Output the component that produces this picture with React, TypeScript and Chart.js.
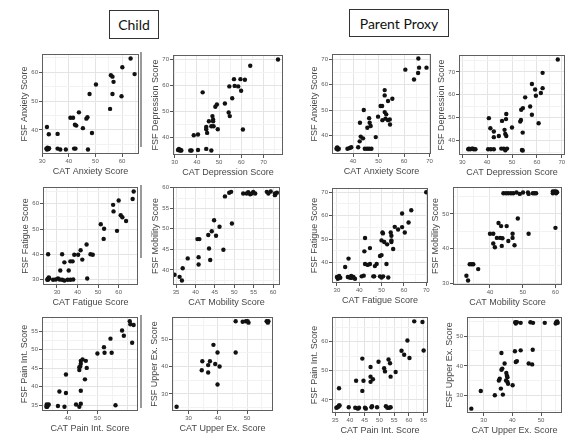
import React, { useEffect, useRef } from "react";
import { Chart, registerables } from "chart.js";
Chart.register(...registerables);

// ---------- DATA ----------
const childAnxietyX = [31.8, 32.5, 35.8, 31.6, 32.0, 32.3, 32.6, 31.8, 35.8, 36.8, 38.9, 42.0, 42.5, 47.2, 40.6, 41.6, 42.3, 42.8, 43.8, 45.3, 46.6, 47.0, 48.7, 47.8, 50.2, 55.5, 55.8, 56.4, 56.8, 56.4, 59.8, 60.1, 63.2, 64.7];
const childAnxietyY = [41.0, 38.5, 38.6, 33.5, 33.8, 33.3, 33.6, 33.2, 33.5, 33.2, 33.2, 33.5, 33.5, 33.2, 44.2, 44.2, 41.8, 41.5, 46.1, 40.6, 43.9, 44.4, 38.9, 52.5, 55.8, 47.3, 59.0, 58.5, 56.7, 52.5, 51.7, 61.8, 64.8, 59.4];
const childAnxietyXTicks = [30, 40, 50, 60];
const childAnxietyYTicks = [40, 50, 60];

const childDepressionX = [31.5, 32.3, 32.7, 31.9, 33.0, 37.0, 37.6, 40.5, 44.2, 46.5, 38.6, 40.5, 42.6, 44.2, 44.2, 44.6, 45.4, 47.0, 47.3, 47.3, 46.5, 47.5, 48.3, 49.0, 49.4, 52.6, 54.3, 54.8, 54.6, 55.9, 56.7, 57.0, 58.6, 59.6, 59.9, 61.6, 60.7, 64.0, 76.5];
const childDepressionY = [35.0, 34.8, 35.0, 35.4, 34.8, 34.8, 34.8, 35.0, 35.4, 34.8, 40.7, 41.0, 57.3, 43.9, 43.0, 41.6, 46.1, 48.1, 46.8, 46.1, 44.2, 44.2, 51.7, 52.6, 43.0, 53.0, 49.5, 48.1, 59.6, 55.0, 62.4, 59.8, 59.6, 62.4, 57.9, 62.2, 42.9, 67.6, 70.0];
const childDepressionXTicks = [30, 40, 50, 60, 70];
const childDepressionYTicks = [40, 50, 60, 70];

const parentAnxietyX = [33.5, 34.0, 33.8, 34.4, 33.7, 37.8, 38.7, 39.3, 42.0, 44.6, 45.5, 46.3, 47.2, 42.6, 43.0, 43.9, 44.2, 42.7, 45.6, 46.5, 46.3, 46.9, 48.9, 49.8, 50.8, 51.4, 52.4, 52.4, 51.5, 52.4, 53.0, 52.7, 53.7, 54.4, 54.5, 53.7, 55.4, 60.5, 63.9, 65.5, 65.9, 68.8, 65.6];
const parentAnxietyY = [34.7, 34.4, 35.2, 34.7, 35.0, 34.7, 35.0, 35.3, 35.3, 34.7, 34.7, 34.7, 34.7, 37.6, 39.5, 38.8, 50.0, 45.0, 43.0, 45.0, 46.8, 43.7, 39.3, 47.4, 51.6, 51.6, 55.8, 57.9, 46.0, 49.2, 48.3, 46.6, 46.0, 46.3, 44.3, 53.6, 54.5, 66.0, 62.1, 64.7, 66.8, 66.8, 70.4];
const parentAnxietyXTicks = [40, 50, 60, 70];
const parentAnxietyYTicks = [40, 50, 60, 70];

const parentDepressionX = [32.4, 33.2, 33.9, 34.6, 35.3, 32.7, 34.3, 40.4, 41.5, 42.7, 45.7, 46.7, 47.3, 48.0, 54.0, 54.3, 40.7, 41.3, 42.7, 42.7, 44.7, 46.0, 47.0, 47.3, 47.7, 47.6, 47.7, 50.0, 53.3, 53.6, 53.7, 54.4, 54.3, 55.3, 57.3, 58.0, 58.0, 59.3, 59.6, 60.7, 61.6, 62.3, 62.3, 68.4];
const parentDepressionY = [36.2, 36.2, 36.5, 36.2, 36.2, 36.5, 36.5, 36.2, 36.2, 36.2, 36.5, 36.5, 35.8, 36.5, 35.9, 35.7, 49.8, 45.4, 44.0, 41.5, 42.0, 48.6, 44.7, 42.9, 42.0, 49.4, 51.6, 45.7, 48.3, 49.0, 53.5, 54.2, 43.5, 58.9, 54.9, 51.3, 64.7, 62.3, 59.6, 47.6, 60.8, 62.9, 69.6, 75.4];
const parentDepressionXTicks = [30, 40, 50, 60, 70];
const parentDepressionYTicks = [40, 50, 60, 70];
const parentDepressionXRange: [number, number] = [28.7, 71.3];

const childFatigueX = [25.7, 25.5, 25.8, 26.2, 25.3, 26.0, 28.1, 29.4, 30.5, 31.3, 32.5, 33.6, 35.2, 36.5, 37.9, 31.6, 32.5, 33.6, 35.7, 36.5, 37.6, 38.4, 40.3, 41.5, 42.3, 44.4, 44.7, 46.3, 47.4, 51.3, 52.7, 52.9, 57.3, 57.5, 59.2, 60.0, 61.0, 61.8, 63.6, 66.8, 67.3];
const childFatigueY = [40.0, 30.2, 30.0, 30.5, 29.9, 30.8, 29.9, 30.0, 30.4, 30.0, 29.9, 29.6, 29.9, 29.9, 30.0, 33.6, 40.0, 36.8, 33.6, 37.2, 37.2, 39.8, 39.8, 41.6, 37.9, 43.9, 30.4, 40.0, 39.8, 51.9, 46.1, 50.1, 59.6, 57.0, 49.3, 61.3, 55.5, 54.7, 53.2, 61.9, 64.9];
const childFatigueXTicks = [30, 40, 50, 60];
const childFatigueYTicks = [30, 40, 50, 60];

const childMobilityX = [34.6, 35.9, 36.5, 36.7, 38.0, 40.8, 40.8, 40.5, 41.0, 43.3, 43.5, 43.8, 44.2, 44.8, 45.3, 46.2, 47.2, 47.6, 48.7, 49.2, 49.4, 52.3, 53.2, 53.6, 54.1, 54.5, 54.9, 55.4, 58.4, 58.8, 59.4, 60.5, 61.0, 60.5];
const childMobilityY = [38.8, 38.3, 37.4, 40.4, 42.8, 43.1, 41.3, 47.5, 47.5, 48.5, 45.2, 42.4, 49.4, 52.1, 48.3, 50.5, 44.9, 57.9, 58.8, 59.0, 51.3, 58.6, 58.6, 58.9, 58.4, 58.6, 59.0, 58.6, 59.0, 58.6, 59.1, 58.6, 58.8, 58.2];
const childMobilityXTicks = [35, 40, 45, 50, 55, 60];
const childMobilityYTicks = [40, 45, 50, 55, 60];
const childMobilityXRange: [number, number] = [34.2, 61.8];

const parentFatigueX = [30.0, 30.7, 30.4, 31.5, 31.0, 33.7, 35.2, 34.9, 35.9, 36.7, 37.4, 38.1, 36.4, 41.1, 42.0, 42.3, 42.6, 44.8, 42.6, 43.8, 44.8, 46.3, 46.7, 47.0, 47.8, 49.3, 50.0, 50.7, 49.3, 50.0, 50.0, 50.4, 50.6, 51.2, 52.2, 53.0, 52.5, 54.1, 54.4, 54.4, 54.4, 55.2, 55.9, 57.4, 59.2, 59.2, 60.4, 62.1, 63.3, 70.0];
const parentFatigueY = [33.7, 33.7, 33.0, 33.4, 34.2, 38.0, 41.6, 33.7, 33.4, 33.4, 33.7, 33.0, 34.2, 34.0, 34.3, 44.7, 50.4, 46.1, 39.3, 38.9, 39.3, 34.0, 34.0, 38.4, 39.3, 34.0, 33.5, 34.0, 42.7, 43.1, 49.4, 52.8, 52.4, 48.7, 39.3, 33.5, 47.7, 52.8, 51.4, 49.4, 48.7, 45.7, 55.2, 54.1, 60.9, 55.1, 52.8, 57.1, 62.3, 70.0];
const parentFatigueXTicks = [30, 40, 50, 60, 70];
const parentFatigueYTicks = [40, 50, 60, 70];
const parentFatigueXRange: [number, number] = [27.8, 70.8];

const parentMobilityX = [32.8, 33.3, 33.8, 34.4, 34.9, 36.4, 40.0, 41.0, 41.0, 41.5, 42.1, 42.6, 43.4, 43.1, 43.8, 43.6, 45.1, 45.6, 46.9, 46.9, 47.5, 48.5, 51.8, 60.0, 44.1, 44.9, 45.6, 46.4, 47.1, 48.1, 49.1, 50.1, 51.6, 51.8, 53.1, 53.6, 54.1, 59.2, 59.7, 60.2, 59.2, 60.2, 60.5];
const parentMobilityY = [32.2, 30.8, 35.5, 35.5, 35.5, 34.1, 44.3, 44.3, 41.5, 40.4, 43.1, 47.4, 46.5, 43.1, 43.0, 40.8, 46.5, 42.2, 44.3, 43.1, 41.0, 48.7, 44.3, 46.0, 56.0, 56.0, 56.0, 56.0, 56.0, 56.2, 55.8, 56.2, 56.2, 55.8, 56.0, 56.0, 56.0, 56.5, 56.5, 56.5, 56.0, 56.0, 56.3];
const parentMobilityXTicks = [40, 50, 60];
const parentMobilityYTicks = [30, 40, 50];
const parentMobilityXRange: [number, number] = [28.7, 62.0];

const childPainX = [32.8, 33.3, 33.1, 33.6, 32.9, 36.7, 38.9, 42.8, 43.9, 44.4, 56.1, 37.2, 39.4, 44.4, 39.4, 43.9, 44.2, 43.9, 44.4, 44.4, 45.0, 45.8, 46.4, 46.1, 50.0, 52.2, 52.4, 54.4, 54.8, 58.3, 58.9, 60.9, 61.1, 61.7, 62.2];
const childPainY = [34.6, 35.0, 34.6, 35.2, 35.2, 34.8, 34.6, 35.2, 34.6, 35.4, 35.0, 38.7, 38.3, 38.9, 43.3, 44.5, 45.5, 45.3, 46.2, 47.0, 47.4, 42.0, 45.1, 47.0, 49.0, 50.7, 49.2, 53.0, 49.2, 55.2, 53.8, 57.7, 56.9, 51.9, 56.7];
const childPainXTicks = [40, 50];
const childPainYTicks = [35, 40, 45, 50, 55];

const childUpperX = [25.9, 34.5, 34.7, 36.7, 37.3, 36.7, 39.9, 39.1, 40.6, 38.5, 39.9, 46.1, 46.1, 48.5, 49.6, 50.2, 50.5, 56.7, 57.3, 57.1];
const childUpperY = [25.3, 38.6, 41.9, 40.5, 41.9, 37.8, 45.1, 40.9, 40.0, 47.9, 33.4, 45.1, 56.5, 56.3, 56.5, 56.5, 56.0, 56.5, 56.5, 56.0];
const childUpperXTicks = [30, 40, 50];
const childUpperYTicks = [30, 40, 50];

const parentPainX = [35.4, 36.1, 36.5, 35.8, 36.3, 36.3, 39.6, 41.8, 42.7, 43.1, 45.1, 45.4, 47.3, 47.5, 49.2, 52.2, 52.7, 53.3, 53.8, 42.1, 44.6, 44.2, 44.2, 47.0, 47.0, 47.0, 47.8, 49.7, 51.6, 51.9, 53.1, 53.6, 53.8, 55.5, 57.5, 58.4, 59.5, 60.2, 61.8, 64.6, 65.0];
const parentPainY = [37.3, 37.7, 38.1, 37.5, 38.1, 44.0, 37.5, 37.3, 37.0, 37.3, 37.3, 37.0, 37.5, 37.8, 37.5, 37.8, 37.3, 37.3, 37.5, 46.6, 46.6, 43.1, 54.2, 51.3, 48.0, 46.2, 47.1, 53.1, 50.9, 49.8, 53.9, 52.6, 48.0, 49.6, 56.9, 55.5, 60.4, 54.4, 67.0, 66.8, 57.0];
const parentPainXTicks = [35, 40, 45, 50, 55, 60, 65];
const parentPainYTicks = [40, 50, 60];

const parentUpperX = [25.7, 29.0, 33.9, 36.7, 36.0, 35.3, 35.6, 36.2, 36.5, 36.2, 37.3, 37.9, 38.1, 38.3, 37.8, 38.3, 38.5, 40.1, 40.9, 41.2, 41.6, 42.9, 45.7, 46.9, 47.1, 41.0, 41.2, 41.6, 42.9, 46.3, 47.2, 51.3, 55.3, 55.8, 55.6, 55.1];
const parentUpperY = [25.7, 31.6, 30.2, 30.4, 32.4, 35.1, 35.7, 38.7, 39.1, 44.3, 40.8, 37.6, 36.7, 36.2, 35.1, 34.6, 34.0, 33.5, 44.9, 41.3, 41.6, 45.2, 40.8, 40.5, 45.4, 54.6, 54.2, 54.6, 54.4, 54.6, 54.4, 54.4, 54.6, 54.4, 54.9, 54.2];
const parentUpperXTicks = [30, 40, 50];
const parentUpperYTicks = [30, 40, 50];

// ---------- RENDERING ----------
const FONT = "'Liberation Sans', Arial, Helvetica, sans-serif";
const PADL = 23, PADT = 4, PADR = 4, PADB = 23;

type Spec = {
  xs: number[]; ys: number[]; xt: number[]; yt: number[];
  xTitle: string; yTitle: string; box: [number, number, number, number];
  xr?: [number, number]; yr?: [number, number];
};

function limits(v: number[]): [number, number] {
  const mn = Math.min(...v), mx = Math.max(...v);
  const r = mx - mn;
  return [mn - 0.05 * r, mx + 0.05 * r];
}

function gridValues(labels: number[], lo: number, hi: number) {
  const step = labels[1] - labels[0];
  const out: number[] = [];
  const k0 = Math.floor(lo / step) - 1, k1 = Math.ceil(hi / step) + 1;
  for (let k = k0; k <= k1; k++) {
    const v = k * step, m = (k + 0.5) * step;
    if (v > lo && v < hi) out.push(v);
    if (m > lo && m < hi) out.push(m);
  }
  return out.sort((a, b) => a - b);
}

function makeAxis(labels: number[], lo: number, hi: number, title: string, horizontal: boolean) {
  const step = labels[1] - labels[0];
  const vals = gridValues(labels, lo, hi);
  const isMajor = (v: number) => Math.abs(v / step - Math.round(v / step)) < 1e-6;
  return {
    type: "linear",
    position: horizontal ? "bottom" : "left",
    min: lo,
    max: hi,
    afterBuildTicks: (s: any) => { s.ticks = vals.map((v) => ({ value: v })); },
    afterFit: (s: any) => {
      if (horizontal) { s.height = PADB; s.paddingLeft = 0; s.paddingRight = 0; }
      else { s.width = PADL; s.paddingTop = 0; s.paddingBottom = 0; }
    },
    ticks: {
      autoSkip: false, maxRotation: 0, minRotation: 0, padding: 1,
      color: "#5a5a5a", font: { family: FONT, size: 6 },
      callback: (v: any) => (labels.indexOf(v) >= 0 ? String(v) : ""),
    },
    grid: {
      color: (c: any) => (c.tick && isMajor(c.tick.value) ? "#e4e4e4" : "#f2f2f2"),
      lineWidth: 1, drawTicks: true, tickLength: 3,
      tickColor: (c: any) => (c.tick && labels.indexOf(c.tick.value) >= 0 ? "#555" : "rgba(0,0,0,0)"),
    },
    border: { display: false },
    title: { display: true, text: title, color: "#474747", font: { family: FONT, size: 9 }, padding: 0 },
  };
}

const boxPlugin = {
  id: "panelBox",
  afterDraw(chart: any) {
    const { ctx, chartArea } = chart;
    const { left, top, right, bottom } = chartArea;
    ctx.save();
    ctx.strokeStyle = "#5f5f5f";
    ctx.lineWidth = 1;
    ctx.strokeRect(left + 0.5, top + 0.5, right - left - 1, bottom - top - 1);
    ctx.restore();
  },
};

function Panel({ spec }: { spec: Spec }) {
  const ref = useRef<HTMLCanvasElement>(null);
  const [L, T, W, H] = spec.box;
  const cw = W + PADL + PADR, ch = H + PADT + PADB;
  useEffect(() => {
    if (!ref.current) return;
    const [x0, x1] = spec.xr || limits(spec.xs);
    const [y0, y1] = spec.yr || limits(spec.ys);
    const chart = new Chart(ref.current, {
      type: "scatter",
      data: {
        datasets: [{
          data: spec.xs.map((x, i) => ({ x, y: spec.ys[i] })),
          pointRadius: 2.2, pointHoverRadius: 2.2,
          backgroundColor: "#111", borderColor: "#111", borderWidth: 0,
        }],
      },
      options: {
        responsive: false, animation: false, devicePixelRatio: 1, events: [],
        layout: { padding: { top: PADT, right: PADR, left: 0, bottom: 0 }, autoPadding: false },
        plugins: { legend: { display: false }, tooltip: { enabled: false } },
        scales: {
          x: makeAxis(spec.xt, x0, x1, spec.xTitle, true),
          y: makeAxis(spec.yt, y0, y1, spec.yTitle, false),
        },
      } as any,
      plugins: [boxPlugin],
    });
    return () => chart.destroy();
  }, []);
  return (
    <canvas ref={ref} width={cw} height={ch}
      style={{ position: "absolute", left: L - PADL, top: T - PADT, width: cw, height: ch }} />
  );
}

const specs: Spec[] = [
  { xs: childAnxietyX, ys: childAnxietyY, xt: childAnxietyXTicks, yt: childAnxietyYTicks, xTitle: "CAT Anxiety Score", yTitle: "FSF Anxiety Score", box: [42, 54, 97, 100] },
  { xs: childDepressionX, ys: childDepressionY, xt: childDepressionXTicks, yt: childDepressionYTicks, xTitle: "CAT Depression Score", yTitle: "FSF Depression Score", box: [173, 55, 110, 100] },
  { xs: parentAnxietyX, ys: parentAnxietyY, xt: parentAnxietyXTicks, yt: parentAnxietyYTicks, xTitle: "CAT Anxiety Score", yTitle: "FSF Anxiety Score", box: [332, 54, 99, 100] },
  { xs: parentDepressionX, ys: parentDepressionY, xt: parentDepressionXTicks, yt: parentDepressionYTicks, xTitle: "CAT Depression Score", yTitle: "FSF Depression Score", box: [459, 55, 106, 100], xr: parentDepressionXRange },
  { xs: childFatigueX, ys: childFatigueY, xt: childFatigueXTicks, yt: childFatigueYTicks, xTitle: "CAT Fatigue Score", yTitle: "FSF Fatigue Score", box: [43, 187, 95, 98] },
  { xs: childMobilityX, ys: childMobilityY, xt: childMobilityXTicks, yt: childMobilityYTicks, xTitle: "CAT Mobility Score", yTitle: "FSF Mobility Score", box: [173, 187, 107, 98], xr: childMobilityXRange },
  { xs: parentFatigueX, ys: parentFatigueY, xt: parentFatigueXTicks, yt: parentFatigueYTicks, xTitle: "CAT Fatigue Score", yTitle: "FSF Fatigue Score", box: [332, 188, 96, 95], xr: parentFatigueXRange },
  { xs: parentMobilityX, ys: parentMobilityY, xt: parentMobilityXTicks, yt: parentMobilityYTicks, xTitle: "CAT Mobility Score", yTitle: "FSF Mobility Score", box: [453, 187, 109, 98], xr: parentMobilityXRange },
  { xs: childPainX, ys: childPainY, xt: childPainXTicks, yt: childPainYTicks, xTitle: "CAT Pain Int. Score", yTitle: "FSF Pain Int. Score", box: [42, 317, 96, 94] },
  { xs: childUpperX, ys: childUpperY, xt: childUpperXTicks, yt: childUpperYTicks, xTitle: "CAT Upper Ex. Score", yTitle: "FSF Upper Ex. Score", box: [172, 317, 101, 94] },
  { xs: parentPainX, ys: parentPainY, xt: parentPainXTicks, yt: parentPainYTicks, xTitle: "CAT Pain Int. Score", yTitle: "FSF Pain Int. Score", box: [332, 317, 96, 96] },
  { xs: parentUpperX, ys: parentUpperY, xt: parentUpperXTicks, yt: parentUpperYTicks, xTitle: "CAT Upper Ex. Score", yTitle: "FSF Upper Ex. Score", box: [467, 317, 95, 96] },
];

const headerStyle = (l: number, t: number, w: number, h: number): React.CSSProperties => ({
  position: "absolute", left: l, top: t, width: w, height: h, boxSizing: "border-box",
  border: "1px solid #333", display: "flex", alignItems: "center", justifyContent: "center",
  fontFamily: "Lato, 'Open Sans', sans-serif", fontSize: 14, color: "#111", background: "#fff",
});

const bar = (t: number, h: number): React.CSSProperties => ({
  position: "absolute", left: 140, top: t, width: 2, height: h, background: "#9a9a9a",
});

export default function App() {
  return (
    <div style={{ position: "absolute", left: 0, top: 0, width: 569, height: 440, background: "#fff", overflow: "hidden" }}>
      <div style={headerStyle(109, 10, 50, 29)}>Child</div>
      <div style={headerStyle(349, 9, 100, 28)}>Parent Proxy</div>
      <div style={bar(52, 95)} />
      <div style={bar(185, 73)} />
      <div style={bar(315, 93)} />
      {specs.map((s, i) => <Panel key={i} spec={s} />)}
    </div>
  );
}
